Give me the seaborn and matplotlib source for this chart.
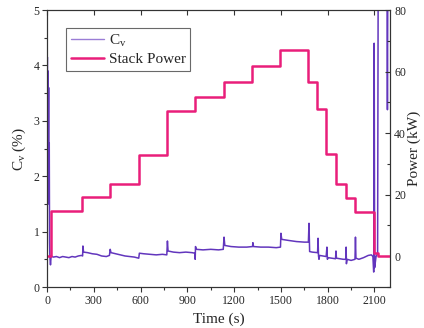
import numpy as np
import pandas as pd
import matplotlib
matplotlib.use('Agg')
import matplotlib.pyplot as plt
from matplotlib.ticker import MultipleLocator
from matplotlib.lines import Line2D
import seaborn as sns

# Cv (%)
cv_time = [0, 2, 4, 6, 8, 10, 12, 14, 16, 18, 22, 26, 40, 60, 80, 100, 120, 140, 160, 180,
           200, 220, 228, 230, 234, 260, 290, 320, 350, 380, 400, 405, 410, 440, 470, 500,
           530, 560, 588, 592, 620, 660, 700, 740, 768, 772, 776, 810, 850, 890, 930, 948,
           950, 952, 958, 1000, 1050, 1100, 1130, 1135, 1140, 1180, 1230, 1280, 1318, 1320,
           1324, 1370, 1420, 1470, 1497, 1500, 1505, 1550, 1600, 1650, 1676, 1680, 1684,
           1700, 1735, 1738, 1741, 1744, 1748, 1790, 1795, 1798, 1802, 1850, 1853, 1856,
           1900, 1916, 1918, 1920, 1924, 1950, 1975, 1978, 1981, 2000, 2030, 2060, 2080,
           2090, 2095, 2098, 2101, 2110, 2120, 2124, 2180, 2183, 2186, 2200]
cv_val = [3.3, 4.15, 1.5, 3.9, 2.0, 3.6, 1.5, 2.6, 0.8, 0.55, 0.40, 0.56, 0.54, 0.55, 0.53,
          0.55, 0.54, 0.53, 0.55, 0.54, 0.56, 0.57, 0.56, 0.74, 0.63, 0.62, 0.60, 0.59, 0.56,
          0.55, 0.57, 0.68, 0.62, 0.60, 0.58, 0.56, 0.55, 0.54, 0.52, 0.61, 0.60, 0.59, 0.58,
          0.59, 0.58, 0.83, 0.65, 0.63, 0.62, 0.63, 0.62, 0.61, 0.50, 0.73, 0.68, 0.67, 0.68,
          0.67, 0.68, 0.90, 0.75, 0.73, 0.72, 0.72, 0.73, 0.80, 0.73, 0.72, 0.72, 0.71, 0.72,
          0.97, 0.86, 0.84, 0.82, 0.81, 0.81, 1.15, 0.64, 0.63, 0.62, 0.88, 0.56, 0.50, 0.57,
          0.55, 0.72, 0.50, 0.53, 0.51, 0.65, 0.52, 0.50, 0.50, 0.72, 0.42, 0.50, 0.48, 0.50,
          0.90, 0.52, 0.50, 0.53, 0.57, 0.58, 0.55, 0.27, 4.40, 0.35, 0.55, 0.60, 6.0, 6.0,
          3.2, 6.0, 6.0]

# Stack power (kW), step changes
pw_time = [0, 23, 227, 405, 592, 770, 950, 1135, 1317, 1497, 1676, 1732, 1792, 1856,
           1916, 1978, 2096, 2121, 2200]
pw_val = [0, 14.6, 19.2, 23.4, 32.8, 47.2, 51.8, 56.5, 61.9, 67.0, 56.7, 47.7, 33.1,
          23.4, 18.8, 14.4, 0.9, 0, 0]

cv_color = '#6236bd'
pw_color = '#e91e7a'

sns.set_theme(style='ticks')
plt.rcParams['font.family'] = ['Liberation Serif', 'DejaVu Serif']
plt.rcParams['mathtext.default'] = 'regular'

df_cv = pd.DataFrame({'t': cv_time, 'cv': cv_val})
df_pw = pd.DataFrame({'t': pw_time, 'p': pw_val})

fig, ax = plt.subplots(figsize=(4.24, 3.28), dpi=100)
fig.subplots_adjust(left=0.111, right=0.92, top=0.9695, bottom=0.125)

sns.lineplot(data=df_cv, x='t', y='cv', ax=ax, color=cv_color, lw=1.1,
             estimator=None, sort=False)
ax2 = ax.twinx()
sns.lineplot(data=df_pw, x='t', y='p', ax=ax2, color=pw_color, lw=1.8,
             estimator=None, sort=False, drawstyle='steps-post')

ax.set_xlim(0, 2200)
ax.set_ylim(0, 5)
ax2.set_ylim(-10, 80)

ax.xaxis.set_major_locator(MultipleLocator(300))
ax.xaxis.set_minor_locator(MultipleLocator(150))
ax.yaxis.set_major_locator(MultipleLocator(1))
ax.yaxis.set_minor_locator(MultipleLocator(0.5))
ax2.yaxis.set_major_locator(MultipleLocator(20))
ax2.yaxis.set_minor_locator(MultipleLocator(10))

ax.set_xlabel('Time (s)', fontsize=11, labelpad=4)
ax.set_ylabel('C$_v$ (%)', fontsize=11, labelpad=4)
ax2.set_ylabel('Power (kW)', fontsize=11, labelpad=1)
ax2.set_xlabel('')

ax.tick_params(axis='both', which='major', direction='out', length=3.5, width=0.8,
               labelsize=8.5, pad=2, color='#333333')
ax.tick_params(axis='both', which='minor', direction='out', length=2, width=0.8,
               color='#333333')
ax.tick_params(axis='x', top=False)
ax.tick_params(axis='y', right=False)
ax2.tick_params(axis='y', which='major', direction='in', length=3.5, width=0.8,
                labelsize=8.5, pad=3, color='#333333')
ax2.tick_params(axis='y', which='minor', direction='in', length=2, width=0.8,
                color='#333333')
# top ticks point inward
ax2.xaxis.set_visible(True)
ax2.xaxis.set_ticks_position('top')
ax2.tick_params(axis='x', which='both', top=True, bottom=False, labeltop=False,
                labelbottom=False, direction='in', color='#333333', width=0.8)
ax2.tick_params(axis='x', which='major', length=3.5)
ax2.tick_params(axis='x', which='minor', length=0)

for a in (ax, ax2):
    for s in a.spines.values():
        s.set_visible(True)
        s.set_color('#333333')
        s.set_linewidth(0.8)

handles = [Line2D([], [], color='#9a7dd6', lw=1.0),
           Line2D([], [], color=pw_color, lw=1.8)]
leg = ax2.legend(handles, ['C$_v$', 'Stack Power'], loc='upper left',
                 bbox_to_anchor=(0.055, 0.935), fontsize=11, frameon=True,
                 fancybox=False, edgecolor='#444444', handlelength=2.2,
                 handletextpad=0.3, borderpad=0.3, labelspacing=0.25,
                 borderaxespad=0)
leg.get_frame().set_linewidth(0.8)

fig.savefig('out.png', dpi=100)
